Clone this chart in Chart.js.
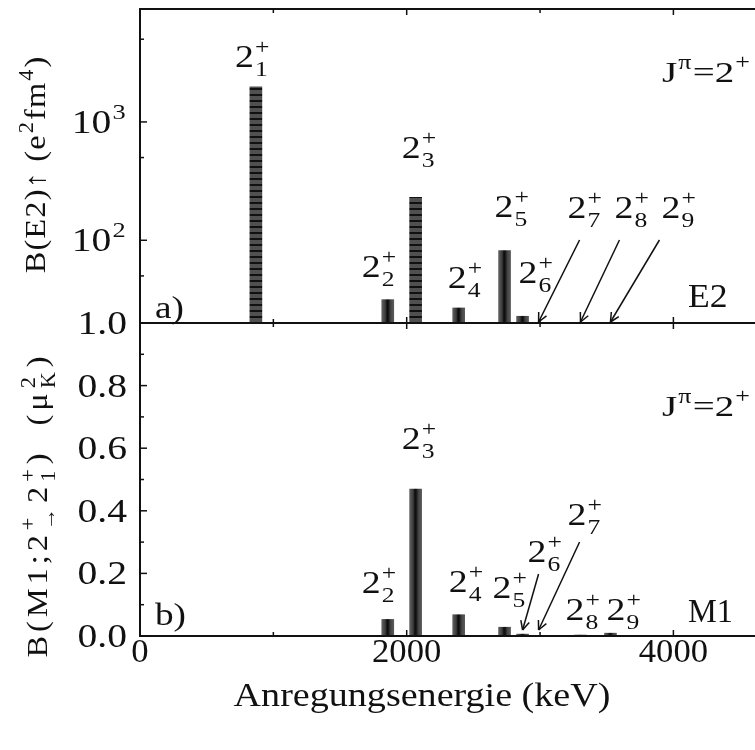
<!DOCTYPE html>
<html><head><meta charset="utf-8">
<script src="https://cdn.jsdelivr.net/npm/chart.js@4/dist/chart.umd.min.js"></script>
<style>
html,body{margin:0;padding:0;background:#fff;}
#wrap{position:relative;width:755px;height:750px;overflow:hidden;background:#fff;}
canvas{position:absolute;left:0;top:0;}
</style></head><body>
<div id="wrap"><canvas id="cTop" width="755" height="750"></canvas><canvas id="cBot" width="755" height="750"></canvas></div>
<script>
// ---------------- data ----------------
const stateNumbers = [1, 2, 3, 4, 5, 6, 7, 8, 9];
const energiesKeV  = [869, 1858, 2067, 2390, 2734, 2869, 2989, 3303, 3528];
const bE2Values    = [1980, 31.5, 231, 26.8, 82, 22.8, null, null, null];   // e^2 fm^4
const bM1Values    = [null, 0.053, 0.469, 0.068, 0.028, 0.006, null, 0.003, 0.009]; // mu_K^2
const xTickValues  = [0, 1000, 2000, 3000, 4000];
const xTickLabels  = ['0', '', '2000', '', '4000'];
const e2TickValues = [50, 100, 500, 1000, 5000];
const e2TickLabels = ['', '10^{2}', '', '10^{3}', ''];
const m1TickValues = [0, 0.1, 0.2, 0.3, 0.4, 0.5, 0.6, 0.7, 0.8, 0.9, 1.0];
const m1TickLabels = ['0.0', '', '0.2', '', '0.4', '', '0.6', '', '0.8', '', '1.0'];
const xTitle   = 'Anregungsenergie (keV)';
const e2Title  = 'B(E2)\u2191 (e^{2}fm^{4})';
const m1Title  = 'B(M1;2^{+}_{\u2192}2_{1}^{+})  (\u03bc_{K}^{2})';
const spinText = 'J^{\u03c0}=2^{+}';

// ---------------- styling / layout (not data) ----------------
const FONT = "'Liberation Serif', 'Times New Roman', serif";
const e2Striped = [true, false, true, false, false, false, false, false, false];
// label offsets: [dx from bar centre (px), baseline y (px)]
const e2LabelPos = [[-21, 67], [-26, 277], [-14, 158], [-11, 288], [-10, 217], [-4, 283], [29, 218], [34, 218], [51, 218]];
const m1LabelPos = [null, [-26, 593], [-14, 449], [-10, 592], [-12, 598], [5, 562], [29, 525], [-15, 620], [-4, 620]];
// arrows: state index -> tail offset from tip
const e2Arrows = [[6, 41, -82], [7, 39, -82], [8, 49, -82]];
const m1Arrows = [[5, 16, -56], [6, 41, -88]];

// ---------------- rich text helper ----------------
function parseRich(str) {
  const out = []; let buf = ''; let i = 0;
  const flush = () => { if (buf) { out.push({type: 'n', t: buf}); buf = ''; } };
  while (i < str.length) {
    const c = str[i];
    if ((c === '_' || c === '^') && str[i + 1] === '{') {
      const j = str.indexOf('}', i);
      const content = str.slice(i + 2, j);
      flush();
      let last = out[out.length - 1];
      if (!last || last.type !== 's' || last.closed || last[c === '^' ? 'sup' : 'sub'] !== undefined) {
        last = {type: 's'}; out.push(last);
      }
      last[c === '^' ? 'sup' : 'sub'] = content;
      i = j + 1;
      continue;
    }
    if (out.length && out[out.length - 1].type === 's') out[out.length - 1].closed = true;
    buf += c; i++;
  }
  flush();
  return out;
}
function drawRich(ctx, str, x, y, o) {
  const S = o.size, s = Math.round(S * 0.68);
  const parts = parseRich(str);
  const items = []; let cx = 0;
  ctx.save();
  const ls = o.ls || 0;
  if ('letterSpacing' in ctx) ctx.letterSpacing = ls + 'px';
  for (const p of parts) {
    if (p.type === 'n') {
      ctx.font = `${S}px ${FONT}`;
      items.push({t: p.t, x: cx, y: 0, font: ctx.font});
      cx += ctx.measureText(p.t).width;
    } else {
      ctx.font = `${s}px ${FONT}`;
      const gap = S * 0.03;
      let w = 0;
      if (p.sup !== undefined) { items.push({t: p.sup, x: cx + gap, y: -S * 0.42, font: ctx.font}); w = Math.max(w, ctx.measureText(p.sup).width); }
      if (p.sub !== undefined) { items.push({t: p.sub, x: cx + gap, y: p.sup !== undefined ? S * 0.28 : S * 0.2, font: ctx.font}); w = Math.max(w, ctx.measureText(p.sub).width); }
      cx += w + gap * 2;
    }
  }
  const W = cx - ls;
  ctx.translate(x, y);
  if (o.rot) ctx.rotate(-Math.PI / 2);
  ctx.scale(o.sx || 1, 1);
  const x0 = o.align === 'center' ? -W / 2 : o.align === 'right' ? -W : 0;
  ctx.fillStyle = o.color || '#111';
  ctx.textAlign = 'left'; ctx.textBaseline = 'alphabetic';
  for (const it of items) { ctx.font = it.font; ctx.fillText(it.t, x0 + it.x, it.y); }
  ctx.restore();
}
function line(ctx, x1, y1, x2, y2) { ctx.beginPath(); ctx.moveTo(x1, y1); ctx.lineTo(x2, y2); ctx.stroke(); }
function arrow(ctx, tx, ty, fx, fy) {
  line(ctx, fx, fy, tx, ty);
  const ang = Math.atan2(ty - fy, tx - fx), L = 10, h = 0.45;
  line(ctx, tx, ty, tx - L * Math.cos(ang - h), ty - L * Math.sin(ang - h));
  line(ctx, tx, ty, tx - L * Math.cos(ang + h), ty - L * Math.sin(ang + h));
}

// ---------------- fills ----------------
const stripeCanvas = document.createElement('canvas');
stripeCanvas.width = 16; stripeCanvas.height = 6;
(() => { const c = stripeCanvas.getContext('2d'); c.fillStyle = '#505050'; c.fillRect(0, 0, 16, 6); c.fillStyle = '#111'; c.fillRect(0, 4, 16, 2); })();
function barFill(striped) {
  return (c) => {
    const chart = c.chart;
    if (!chart.chartArea || !c.raw) return '#333';
    if (striped && striped[c.raw.i]) return chart.ctx.createPattern(stripeCanvas, 'repeat');
    const px = chart.scales.x.getPixelForValue(c.raw.x);
    const g = chart.ctx.createLinearGradient(px - 6, 0, px + 6, 0);
    g.addColorStop(0, '#606060'); g.addColorStop(0.3, '#3a3a3a'); g.addColorStop(0.45, '#0a0a0a');
    g.addColorStop(0.55, '#151515'); g.addColorStop(0.75, '#454545'); g.addColorStop(1, '#5a5a5a');
    return g;
  };
}
const xMax = 4612;

// ---------------- plugins ----------------
function framePlugin(which) {
  return {
    id: 'frame_' + which,
    afterDatasetsDraw(chart) {
      const {ctx, chartArea: a, scales: {x, y}} = chart;
      ctx.save();
      ctx.strokeStyle = '#111'; ctx.lineWidth = 2;
      line(ctx, a.left, a.top - 1, a.left, a.bottom + 1);
      line(ctx, a.left - 1, a.top, a.right + 5, a.top);
      line(ctx, a.left - 1, a.bottom, a.right + 5, a.bottom);
      ctx.lineWidth = 1.5;
      xTickValues.forEach((v, i) => {
        const px = x.getPixelForValue(v);
        if (v === 0) return;
        const len = xTickLabels[i] ? 6 : 4;
        line(ctx, px, a.top, px, a.top + len);
        line(ctx, px, a.bottom, px, a.bottom - len);
      });
      const vals = which === 'top' ? e2TickValues : m1TickValues;
      const labs = which === 'top' ? e2TickLabels : m1TickLabels;
      vals.forEach((v, i) => {
        const py = y.getPixelForValue(v);
        if (py < a.top - 0.5 || py > a.bottom + 0.5) return;
        const len = labs[i] ? 7 : 4;
        line(ctx, a.left, py, a.left + len, py);
        if (labs[i]) drawRich(ctx, labs[i], 127, py + 11, {size: 33, sx: 1.2, align: 'right'});
      });
      const pos = which === 'top' ? e2LabelPos : m1LabelPos;
      ctx.lineWidth = 1.5;
      pos.forEach((p, i) => {
        if (!p) return;
        const px = x.getPixelForValue(energiesKeV[i]);
        drawRich(ctx, '2_{' + stateNumbers[i] + '}^{+}', px + p[0], p[1], {size: 31, sx: 1.22});
      });
      const arrows = which === 'top' ? e2Arrows : m1Arrows;
      const tipY = which === 'top' ? a.bottom - 1 : a.bottom - 6;
      arrows.forEach(([i, dx, dy]) => {
        const px = x.getPixelForValue(energiesKeV[i]);
        arrow(ctx, px, tipY, px + dx, tipY + dy);
      });
      if (which === 'top') {
        drawRich(ctx, spinText, 662, 82, {size: 30, sx: 1.3});
        drawRich(ctx, 'E2', 688, 307, {size: 33, sx: 1.08});
        drawRich(ctx, 'a)', 155, 318, {size: 31, sx: 1.2});
        drawRich(ctx, e2Title, 45, 165, {size: 29, sx: 1.12, rot: true, align: 'center', ls: 1});
      } else {
        drawRich(ctx, spinText, 662, 416, {size: 30, sx: 1.3});
        drawRich(ctx, 'M1', 688, 622, {size: 33, sx: 0.98});
        drawRich(ctx, 'b)', 155, 625, {size: 31, sx: 1.2});
        drawRich(ctx, m1Title, 47, 507, {size: 29, sx: 1.12, rot: true, align: 'center', ls: 3.5});
        xTickValues.forEach((v, i) => {
          if (!xTickLabels[i]) return;
          drawRich(ctx, xTickLabels[i], x.getPixelForValue(v), 662, {size: 33, sx: 1.05, align: 'center'});
        });
        drawRich(ctx, xTitle, 422, 706, {size: 34, sx: 1.12, align: 'center'});
      }
      ctx.restore();
    }
  };
}

function makeChart(id, which) {
  const vals = which === 'top' ? bE2Values : bM1Values;
  const data = [];
  energiesKeV.forEach((e, i) => { if (vals[i] !== null) data.push({x: e, y: vals[i], i}); });
  return new Chart(document.getElementById(id), {
    type: 'bar',
    data: {datasets: [{
      label: which === 'top' ? 'B(E2)' : 'B(M1)',
      data,
      backgroundColor: barFill(which === 'top' ? e2Striped : null),
      borderWidth: 0,
      barThickness: 12
    }]},
    options: {
      responsive: false, animation: false, devicePixelRatio: 1,
      layout: {padding: which === 'top' ? {left: 140, top: 9, right: 0, bottom: 427} : {left: 140, top: 323, right: 0, bottom: 114}},
      plugins: {legend: {display: false}, tooltip: {enabled: false}, title: {display: false}},
      scales: {
        x: {type: 'linear', min: 0, max: xMax, offset: false, display: false},
        y: which === 'top'
          ? {type: 'logarithmic', min: 20, max: 9000, display: false}
          : {type: 'linear', min: 0, max: 1.0, display: false}
      }
    },
    plugins: [framePlugin(which)]
  });
}
makeChart('cTop', 'top');
makeChart('cBot', 'bot');
</script>
</body></html>
